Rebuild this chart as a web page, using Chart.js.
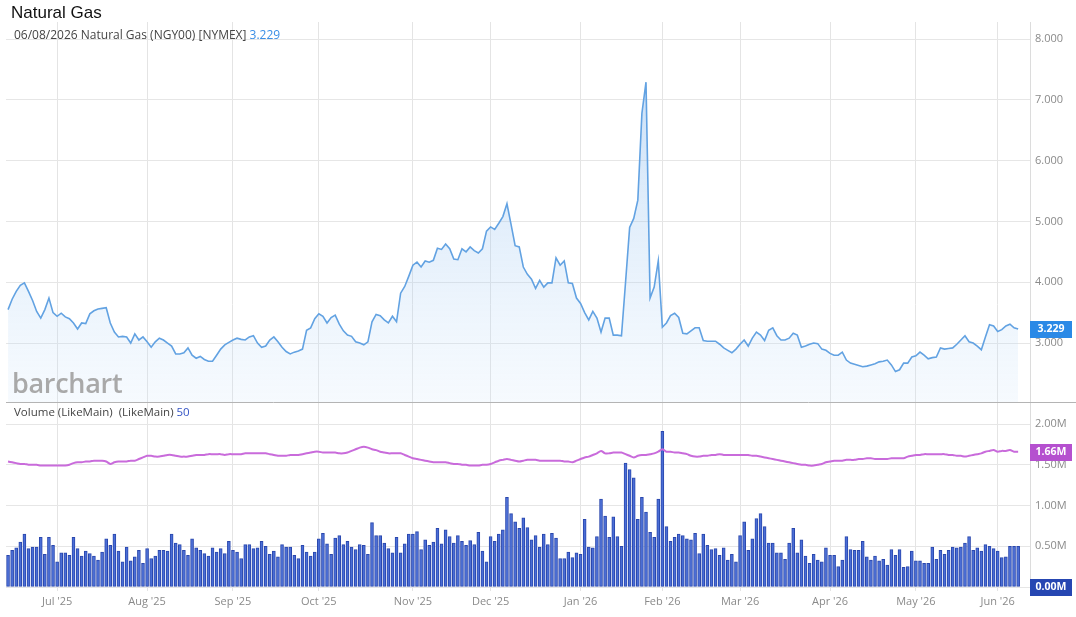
<!DOCTYPE html>
<html>
<head>
<meta charset="utf-8">
<script src="https://cdn.jsdelivr.net/npm/chart.js@4.4.1/dist/chart.umd.min.js"></script>
<style>
  body { margin: 0; background: #fff; font-family: "Open Sans", sans-serif; }
  #wrap { position: relative; width: 1076px; height: 617px; overflow: hidden; }
  #chart { position: absolute; left: 0; top: 0; }
  .title { position: absolute; left: 11px; top: 3px; font: 17px "Liberation Sans", Arial, sans-serif; color: #111; }
  .sub { position: absolute; left: 14px; top: 26px; font-size: 12px; color: #444; }
  .sub span { color: #3a8ee6; }
  .vol { position: absolute; left: 14px; top: 404px; font-size: 11.5px; color: #444; }
  .vol span { color: #3353c4; }
  .mark { position: absolute; left: 12px; top: 364px; font-size: 27px; font-weight: 600; color: #a9a9a9; letter-spacing: -0.3px; }
</style>
</head>
<body>
<div id="wrap">
  <canvas id="chart" width="1076" height="617"></canvas>
  <div class="title">Natural Gas</div>
  <div class="sub">06/08/2026 Natural Gas (NGY00) [NYMEX] <span>3.229</span></div>
  <div class="mark">barchart</div>
  <div class="vol">Volume (LikeMain)&nbsp; (LikeMain) <span>50</span></div>
</div>
<script>
// daily close, one value per trading day (mid-Jun 2025 .. 06/08/2026)
const price = [
  3.55,3.72,3.85,3.95,3.99,3.85,3.70,3.52,3.41,3.55,
  3.74,3.50,3.44,3.49,3.43,3.40,3.33,3.23,3.33,3.32,
  3.48,3.53,3.56,3.57,3.58,3.33,3.18,3.10,3.11,3.10,
  3.00,3.15,3.05,3.10,3.02,2.93,3.02,3.08,3.05,3.00,
  2.95,2.82,2.82,2.84,2.92,2.80,2.75,2.78,2.73,2.70,
  2.70,2.80,2.90,2.97,3.01,3.05,3.08,3.06,3.05,3.10,
  3.12,3.00,2.93,2.95,3.05,3.10,3.02,2.93,2.86,2.82,
  2.85,2.87,2.90,3.21,3.25,3.40,3.48,3.44,3.33,3.42,
  3.46,3.31,3.20,3.13,3.11,3.02,3.00,2.97,3.02,3.35,
  3.47,3.45,3.38,3.33,3.44,3.35,3.82,3.93,4.10,4.28,
  4.33,4.25,4.35,4.33,4.36,4.56,4.54,4.63,4.55,4.38,
  4.37,4.55,4.50,4.58,4.52,4.48,4.55,4.84,4.91,4.87,
  4.97,5.08,5.29,4.95,4.60,4.58,4.25,4.13,4.05,3.90,
  4.03,3.92,3.99,3.99,4.40,4.28,4.35,3.99,3.98,3.74,
  3.65,3.50,3.38,3.52,3.41,3.18,3.41,3.41,3.13,3.13,
  3.12,4.00,4.90,5.05,5.35,6.78,7.29,3.74,3.92,4.35,
  3.26,3.33,3.45,3.49,3.42,3.16,3.15,3.20,3.25,3.25,
  3.04,3.03,3.03,3.03,2.98,2.92,2.88,2.84,2.90,2.98,
  3.05,2.95,3.08,3.18,3.13,3.04,3.21,3.25,3.12,3.05,
  3.05,3.08,3.16,3.13,2.93,2.95,2.98,3.00,2.99,2.90,
  2.88,2.83,2.80,2.80,2.85,2.72,2.67,2.65,2.63,2.61,
  2.62,2.64,2.66,2.69,2.70,2.72,2.64,2.53,2.56,2.67,
  2.67,2.77,2.79,2.85,2.80,2.74,2.76,2.77,2.92,2.90,
  2.91,2.92,2.98,3.05,3.12,3.02,3.00,2.95,2.89,3.10,
  3.30,3.28,3.19,3.22,3.28,3.31,3.25,3.229
];

// volume in millions
const volume = [
  0.39,0.45,0.48,0.55,0.65,0.47,0.49,0.49,0.61,0.40,
  0.61,0.51,0.31,0.42,0.42,0.39,0.61,0.47,0.38,0.44,
  0.41,0.38,0.33,0.43,0.59,0.51,0.65,0.44,0.31,0.49,
  0.32,0.37,0.45,0.29,0.47,0.35,0.38,0.45,0.45,0.44,
  0.65,0.54,0.52,0.45,0.39,0.59,0.48,0.45,0.41,0.38,
  0.48,0.43,0.47,0.41,0.56,0.45,0.43,0.35,0.52,0.52,
  0.47,0.48,0.56,0.50,0.40,0.44,0.37,0.52,0.49,0.49,
  0.39,0.35,0.51,0.43,0.38,0.43,0.59,0.66,0.53,0.40,
  0.60,0.63,0.52,0.56,0.49,0.46,0.52,0.51,0.40,0.79,
  0.63,0.63,0.54,0.47,0.42,0.61,0.42,0.53,0.65,0.65,
  0.68,0.46,0.58,0.51,0.55,0.72,0.53,0.70,0.62,0.54,
  0.63,0.56,0.51,0.57,0.52,0.67,0.44,0.31,0.62,0.56,
  0.65,0.70,1.10,0.90,0.80,0.72,0.85,0.73,0.58,0.63,
  0.49,0.65,0.52,0.66,0.60,0.35,0.35,0.43,0.36,0.42,
  0.40,0.83,0.49,0.48,0.62,1.08,0.87,0.61,0.86,0.62,
  0.50,1.52,1.44,1.34,0.83,1.10,0.92,0.67,0.61,1.08,
  1.91,0.74,0.56,0.61,0.65,0.63,0.59,0.58,0.66,0.41,
  0.65,0.51,0.46,0.47,0.39,0.48,0.33,0.40,0.31,0.63,
  0.80,0.45,0.59,0.84,0.90,0.74,0.54,0.54,0.42,0.42,
  0.34,0.54,0.72,0.42,0.58,0.38,0.29,0.40,0.33,0.31,
  0.48,0.39,0.39,0.25,0.33,0.62,0.46,0.45,0.45,0.56,
  0.37,0.33,0.38,0.32,0.34,0.27,0.46,0.39,0.46,0.24,
  0.25,0.44,0.32,0.32,0.29,0.29,0.49,0.34,0.45,0.40,
  0.45,0.49,0.48,0.49,0.54,0.62,0.45,0.48,0.44,0.52,
  0.50,0.47,0.44,0.36,0.37,0.50,0.50,0.50
];

// 50-day average volume, millions
const avgVolume = [
  1.54,1.53,1.52,1.51,1.51,1.50,1.50,1.50,1.49,1.49,
  1.49,1.49,1.49,1.49,1.49,1.50,1.52,1.53,1.53,1.54,
  1.54,1.55,1.55,1.55,1.54,1.51,1.53,1.54,1.54,1.54,
  1.55,1.55,1.57,1.59,1.61,1.61,1.60,1.60,1.61,1.62,
  1.62,1.61,1.60,1.60,1.60,1.61,1.62,1.62,1.62,1.63,
  1.63,1.63,1.63,1.62,1.63,1.63,1.63,1.63,1.64,1.64,
  1.64,1.64,1.64,1.64,1.63,1.62,1.61,1.61,1.61,1.62,
  1.62,1.62,1.63,1.64,1.65,1.66,1.66,1.65,1.65,1.65,
  1.65,1.64,1.64,1.65,1.67,1.69,1.71,1.72,1.71,1.69,
  1.68,1.66,1.65,1.64,1.64,1.64,1.64,1.62,1.60,1.58,
  1.57,1.56,1.55,1.54,1.53,1.53,1.53,1.53,1.52,1.51,
  1.51,1.50,1.50,1.49,1.49,1.49,1.50,1.50,1.51,1.53,
  1.55,1.56,1.57,1.56,1.55,1.54,1.55,1.56,1.56,1.56,
  1.55,1.55,1.55,1.55,1.55,1.55,1.54,1.54,1.53,1.55,
  1.57,1.59,1.60,1.62,1.64,1.67,1.64,1.64,1.65,1.65,
  1.65,1.63,1.61,1.59,1.61,1.62,1.62,1.63,1.64,1.66,
  1.69,1.66,1.66,1.65,1.65,1.64,1.63,1.61,1.60,1.60,
  1.61,1.61,1.62,1.62,1.63,1.62,1.62,1.62,1.62,1.62,
  1.62,1.62,1.61,1.61,1.60,1.59,1.58,1.57,1.56,1.55,
  1.54,1.53,1.52,1.51,1.50,1.50,1.49,1.49,1.50,1.51,
  1.53,1.54,1.55,1.55,1.55,1.56,1.56,1.56,1.57,1.57,
  1.58,1.58,1.57,1.57,1.57,1.57,1.58,1.58,1.58,1.58,
  1.60,1.61,1.62,1.62,1.63,1.63,1.63,1.63,1.63,1.63,
  1.62,1.62,1.61,1.61,1.60,1.61,1.62,1.63,1.64,1.66,
  1.67,1.68,1.66,1.67,1.67,1.68,1.66,1.66
];

// first trading day of each month (index into the series) and its label
const monthStart = [12, 34, 55, 76, 99, 118, 140, 160, 179, 201, 222, 242];
const monthLabels = ["Jul '25", "Aug '25", "Sep '25", "Oct '25", "Nov '25", "Dec '25",
                     "Jan '26", "Feb '26", "Mar '26", "Apr '26", "May '26", "Jun '26"];
const priceTicks = [3, 4, 5, 6, 7, 8];
const volumeTicks = [0, 0.5, 1, 1.5, 2];

const lastPrice = price[price.length - 1];
const lastAvg = avgVolume[avgVolume.length - 1];

function pts(arr) { return arr.map((v, i) => ({ x: i, y: v })); }

const tickFont = { family: 'Open Sans', size: 11 };

const boxes = {
  id: 'boxes',
  beforeDatasetsDraw(chart) {
    const c = chart.ctx, a = chart.chartArea, ys = chart.scales.y;
    c.save();
    c.strokeStyle = '#b4b4b4';
    c.lineWidth = 1;
    c.beginPath();
    c.moveTo(a.left, Math.round(ys.bottom) + 0.5);
    c.lineTo(1076, Math.round(ys.bottom) + 0.5);
    c.stroke();
    c.restore();
  },
  afterDraw(chart) {
    const c = chart.ctx, a = chart.chartArea;
    const tag = (y, text, color) => {
      c.fillStyle = color;
      c.fillRect(a.right, Math.round(y) - 8, 42, 17);
      c.fillStyle = '#fff';
      c.font = 'bold 10.5px "Open Sans"';
      c.textAlign = 'center';
      c.textBaseline = 'middle';
      c.fillText(text, a.right + 21, Math.round(y) + 0.5);
    };
    c.save();
    tag(chart.scales.y.getPixelForValue(lastPrice), lastPrice.toFixed(3), '#2a89e6');
    tag(chart.scales.yv.getPixelForValue(lastAvg), lastAvg.toFixed(2) + 'M', '#b550cf');
    tag(chart.scales.yv.getPixelForValue(0), '0.00M', '#2646b2');
    c.restore();
  }
};

new Chart(document.getElementById('chart'), {
  data: {
    datasets: [
      {
        type: 'line', data: pts(avgVolume), yAxisID: 'yv', order: 0,
        borderColor: '#c96bdb', borderWidth: 2, pointRadius: 0, tension: 0.3, fill: false
      },
      {
        type: 'line', data: pts(price), yAxisID: 'y', order: 1,
        borderColor: '#62a2e2', borderWidth: 1.6, pointRadius: 0, tension: 0,
        fill: 'start',
        backgroundColor(ctx) {
          const ch = ctx.chart, ys = ch.scales.y;
          if (!ch.chartArea || !ys) return 'rgba(180,210,245,0.3)';
          const g = ch.ctx.createLinearGradient(0, ys.getPixelForValue(7.3), 0, ys.bottom);
          g.addColorStop(0, 'rgba(120,175,235,0.38)');
          g.addColorStop(1, 'rgba(205,228,250,0.18)');
          return g;
        }
      },
      {
        type: 'bar', data: pts(volume), yAxisID: 'yv', order: 2,
        backgroundColor: '#4a6ed6', borderColor: '#2a47ad', borderWidth: 1,
        barThickness: 3, borderSkipped: false
      }
    ]
  },
  options: {
    responsive: false,
    animation: false,
    layout: { padding: { left: 6, top: 22, right: 0, bottom: 0 } },
    plugins: { legend: { display: false }, tooltip: { enabled: false } },
    scales: {
      x: {
        type: 'linear', position: 'bottom', min: -0.5, max: 249.9, offset: false,
        afterBuildTicks(s) { s.ticks = monthStart.map(v => ({ value: v })); },
        afterFit(s) { s.height = 30; },
        ticks: {
          autoSkip: false, maxRotation: 0, color: '#8a8a8a', font: tickFont, padding: 4,
          callback: v => monthLabels[monthStart.indexOf(v)]
        },
        grid: { color: '#e4e4e4', tickLength: 4, offset: false },
        border: { display: false }
      },
      y: {
        type: 'linear', position: 'right', stack: 'panes', stackWeight: 380,
        min: 2.03, max: 8.28,
        afterBuildTicks(s) { s.ticks = priceTicks.map(v => ({ value: v })); },
        afterFit(s) { s.width = 46; },
        ticks: { color: '#8a8a8a', font: tickFont, padding: 5, callback: v => v.toFixed(3) },
        grid: { color: '#e6e6e6', drawTicks: false },
        border: { color: '#dcdcdc' }
      },
      yv: {
        type: 'linear', position: 'right', stack: 'panes', stackWeight: 185,
        min: 0, max: 2.27,
        afterBuildTicks(s) { s.ticks = volumeTicks.map(v => ({ value: v })); },
        afterFit(s) { s.width = 46; },
        ticks: { color: '#8a8a8a', font: tickFont, padding: 5, callback: v => v.toFixed(2) + 'M' },
        grid: { color: '#e6e6e6', drawTicks: false },
        border: { color: '#dcdcdc' }
      }
    }
  },
  plugins: [boxes]
});
</script>
</body>
</html>
